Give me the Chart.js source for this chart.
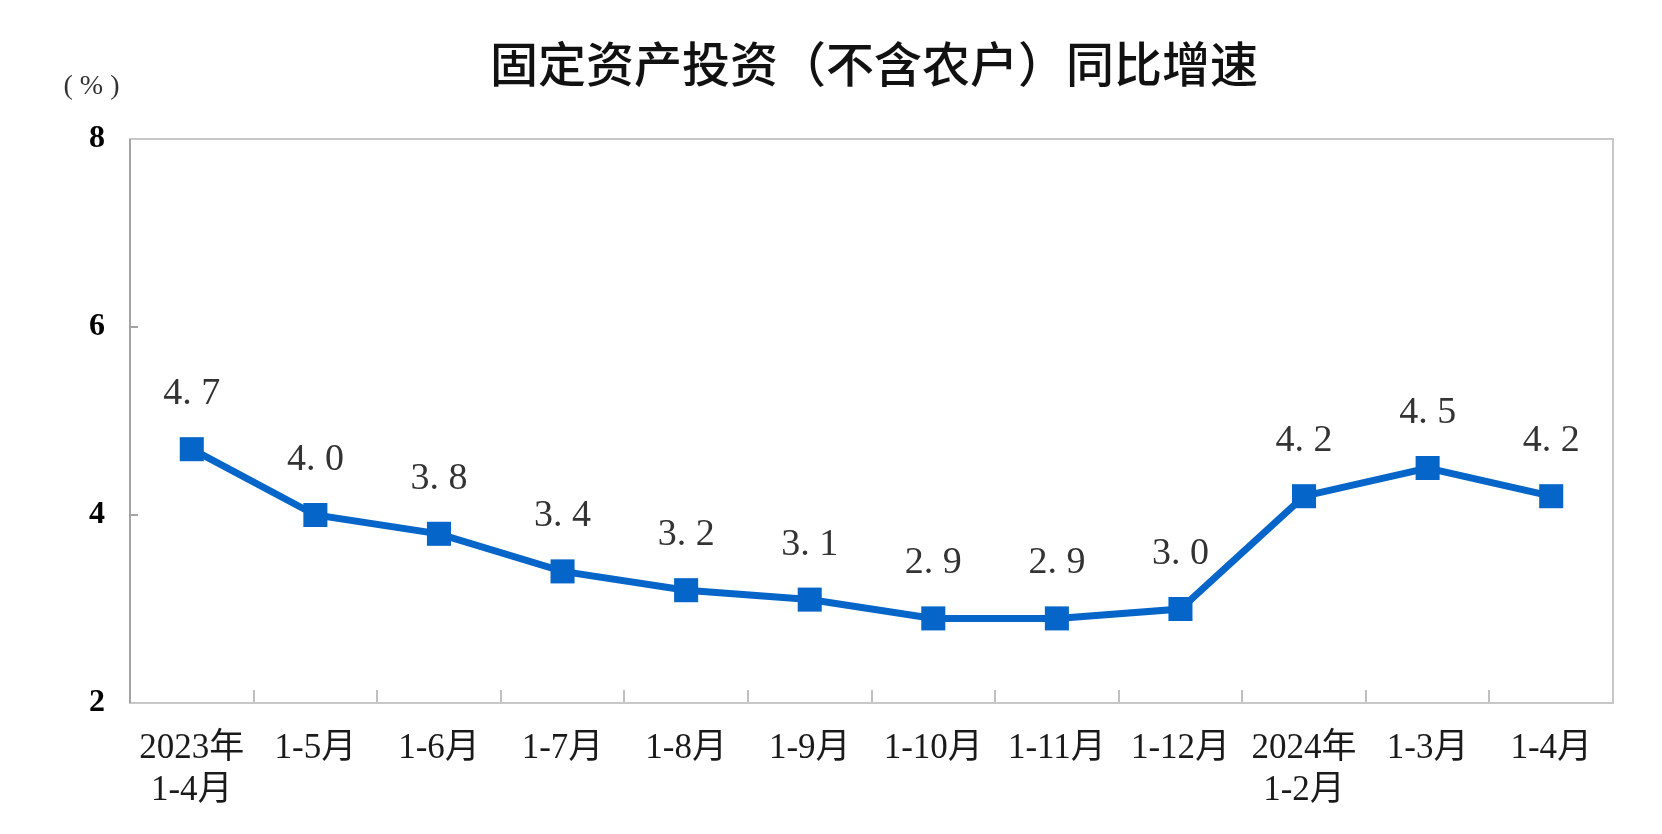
<!DOCTYPE html>
<html>
<head>
<meta charset="utf-8">
<title>固定资产投资（不含农户）同比增速</title>
<script src="https://cdn.jsdelivr.net/npm/chart.js@4/dist/chart.umd.min.js"></script>
<style>
  html, body { margin: 0; padding: 0; background: #fff; }
  #wrap { width: 1662px; height: 834px; }
</style>
</head>
<body>
<div id="wrap"><canvas id="chart" width="1662" height="834"></canvas></div>
<script>
var months = [
  ['2023年', '1-4月'], '1-5月', '1-6月', '1-7月', '1-8月', '1-9月',
  '1-10月', '1-11月', '1-12月', ['2024年', '1-2月'], '1-3月', '1-4月'
];
var growth = [4.7, 4.0, 3.8, 3.4, 3.2, 3.1, 2.9, 2.9, 3.0, 4.2, 4.5, 4.2];
var yTicks = [2, 4, 6, 8];

var titleText = '固定资产投资（不含农户）同比增速';
var unitText = '(%)';

var serif = "'Liberation Serif', 'Noto Sans CJK SC', serif";

// title, unit, frame and value labels
var extras = {
  id: 'extras',
  beforeDatasetsDraw: function(chart) {
    var ctx = chart.ctx, a = chart.chartArea;
    ctx.save();
    ctx.lineWidth = 2;
    ctx.strokeStyle = '#c8c8c8';
    ctx.strokeRect(a.left, a.top, a.right - a.left, a.bottom - a.top);
    ctx.strokeStyle = '#a4a4a4';
    ctx.beginPath();
    ctx.moveTo(a.left, a.top);
    ctx.lineTo(a.left, a.bottom);
    ctx.stroke();
    ctx.restore();
  },
  afterDatasetsDraw: function(chart) {
    var ctx = chart.ctx;
    ctx.save();
    ctx.fillStyle = '#111';
    ctx.font = "500 48px 'Noto Sans CJK SC', sans-serif";
    ctx.textAlign = 'center';
    ctx.textBaseline = 'middle';
    ctx.fillText(titleText, 874, 64);

    ctx.fillStyle = '#333';
    ctx.font = '28px ' + serif;
    ctx.letterSpacing = '7px';
    ctx.fillText(unitText, 95, 87);
    ctx.letterSpacing = '0px';

    ctx.font = '38px ' + serif;
    ctx.fillStyle = '#333';
    var meta = chart.getDatasetMeta(0);
    meta.data.forEach(function(pt, i) {
      var s = growth[i].toFixed(1).replace('.', '. ');
      ctx.fillText(s, pt.x, pt.y - 55);
    });
    ctx.restore();
  }
};

var config = {
  type: 'line',
  data: {
    labels: months,
    datasets: [{
      data: growth,
      borderColor: '#0565c9',
      backgroundColor: '#0565c9',
      borderWidth: 7,
      tension: 0,
      pointStyle: 'rect',
      pointRadius: 17,
      pointBorderWidth: 0,
      pointBackgroundColor: '#0565c9'
    }]
  },
  options: {
    responsive: false,
    animation: false,
    layout: {
      padding: { left: 0, right: 49, top: 139, bottom: 0 }
    },
    plugins: {
      legend: { display: false },
      tooltip: { enabled: false }
    },
    scales: {
      x: {
        offset: true,
        grid: {
          offset: true,
          drawOnChartArea: false,
          tickLength: -13,
          color: '#c0c0c0',
          lineWidth: 2
        },
        border: { display: false },
        ticks: {
          autoSkip: false,
          maxRotation: 0,
          minRotation: 0,
          padding: 38,
          color: '#1a1a1a',
          font: { family: serif, size: 35, lineHeight: 1.2 }
        },
        afterFit: function(scale) { scale.height = 131; }
      },
      y: {
        min: 2,
        max: 8,
        afterBuildTicks: function(scale) {
          scale.ticks = yTicks.map(function(v) { return { value: v }; });
        },
        grid: {
          drawOnChartArea: false,
          tickLength: -8,
          color: '#a4a4a4',
          lineWidth: 2
        },
        border: { display: false },
        ticks: {
          padding: 33,
          color: '#000',
          font: { family: serif, size: 32, weight: 'bold' }
        },
        afterFit: function(scale) { scale.width = 130; }
      }
    }
  },
  plugins: [extras]
};

window.onload = function() {
  var ctx = document.getElementById('chart').getContext('2d');
  window.myLine = new Chart(ctx, config);
};
</script>
</body>
</html>
